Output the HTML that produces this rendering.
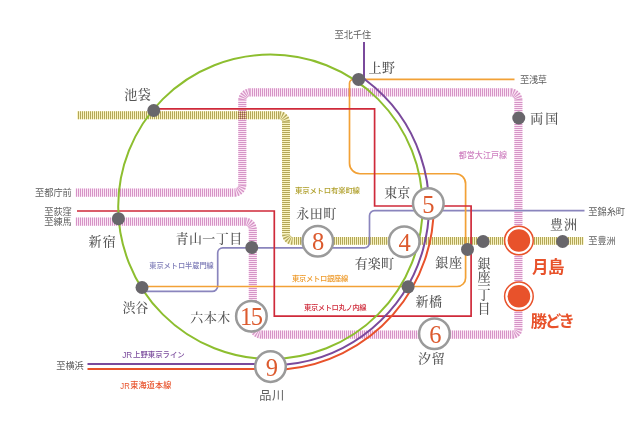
<!DOCTYPE html>
<html lang="ja"><head><meta charset="utf-8"><title>路線図</title>
<style>
html,body{margin:0;padding:0;background:#fff;}
body{width:640px;height:424px;overflow:hidden;}
svg{display:block;opacity:.999;will-change:transform;}
.m{font-family:"Liberation Serif","Noto Serif CJK JP","Noto Serif CJK SC",serif;font-size:13px;fill:#555;font-weight:500;}
.g{font-family:"Liberation Sans","Noto Sans CJK JP",sans-serif;font-size:9.2px;fill:#5e5e5e;font-weight:400;}
.s{font-family:"Liberation Sans","Noto Sans CJK JP",sans-serif;font-weight:500;}
.n{font-family:"Liberation Serif",serif;font-size:24.5px;fill:#dc5a2e;text-anchor:middle;}
.b{font-family:"Liberation Sans","Noto Sans CJK JP",sans-serif;font-weight:700;fill:#e8522b;}
</style></head><body>
<svg width="640" height="424" viewBox="0 0 640 424">
<rect width="640" height="424" fill="#fff"/>
<g fill="none" stroke-linecap="butt">
<path d="M75.5,192.6 L234.30,192.60 A8,8 0 0 0 242.30,184.60 L242.30,100.40 A8,8 0 0 1 250.30,92.40 L510.40,92.40 A8,8 0 0 1 518.40,100.40 L518.40,328.60 A6,6 0 0 1 512.40,334.60 L261.80,334.60 A9,9 0 0 1 252.80,325.60 L252.80,229.60 A8,8 0 0 0 244.80,221.60 L75.5,221.6" stroke="#fce7f5" stroke-width="8.1"/>
<path d="M75.50,192.6 H234.30" stroke="#d593c6" stroke-width="8.1" stroke-dasharray="1 1" stroke-dashoffset="1.50"/>
<path d="M242.3,100.40 V184.60" stroke="#d593c6" stroke-width="8.1" stroke-dasharray="1 1" stroke-dashoffset="0.40"/>
<path d="M250.30,92.4 H510.40" stroke="#d593c6" stroke-width="8.1" stroke-dasharray="1 1" stroke-dashoffset="0.30"/>
<path d="M518.4,100.40 V328.60" stroke="#d593c6" stroke-width="8.1" stroke-dasharray="1 1" stroke-dashoffset="0.40"/>
<path d="M261.80,334.6 H512.40" stroke="#d593c6" stroke-width="8.1" stroke-dasharray="1 1" stroke-dashoffset="1.80"/>
<path d="M252.8,229.60 V325.60" stroke="#d593c6" stroke-width="8.1" stroke-dasharray="1 1" stroke-dashoffset="1.60"/>
<path d="M75.50,221.6 H244.80" stroke="#d593c6" stroke-width="8.1" stroke-dasharray="1 1" stroke-dashoffset="1.50"/>
<path d="M234.30,192.60 A8,8 0 0 0 242.30,184.60" stroke="#d593c6" stroke-width="8.1" stroke-dasharray="1.047 1.047" stroke-dashoffset="-0.524"/>
<path d="M242.30,100.40 A8,8 0 0 1 250.30,92.40" stroke="#d593c6" stroke-width="8.1" stroke-dasharray="1.047 1.047" stroke-dashoffset="-0.524"/>
<path d="M510.40,92.40 A8,8 0 0 1 518.40,100.40" stroke="#d593c6" stroke-width="8.1" stroke-dasharray="1.047 1.047" stroke-dashoffset="-0.524"/>
<path d="M518.40,328.60 A6,6 0 0 1 512.40,334.60" stroke="#d593c6" stroke-width="8.1" stroke-dasharray="0.942 0.942" stroke-dashoffset="-0.471"/>
<path d="M261.80,334.60 A9,9 0 0 1 252.80,325.60" stroke="#d593c6" stroke-width="8.1" stroke-dasharray="1.010 1.010" stroke-dashoffset="-0.505"/>
<path d="M252.80,229.60 A8,8 0 0 0 244.80,221.60" stroke="#d593c6" stroke-width="8.1" stroke-dasharray="1.047 1.047" stroke-dashoffset="-0.524"/>
<g style="mix-blend-mode:multiply"><path d="M77,115.2 L279.00,115.20 A7,7 0 0 1 286.00,122.20 L286.00,233.90 A7,7 0 0 0 293.00,240.90 L583.75,240.9" stroke="#f9f4c2" stroke-width="7.9"/>
<path d="M77.00,115.2 H279.00" stroke="#b3a658" stroke-width="7.9" stroke-dasharray="1 1" stroke-dashoffset="1.00"/>
<path d="M286.0,122.20 V233.90" stroke="#b3a658" stroke-width="7.9" stroke-dasharray="1 1" stroke-dashoffset="0.20"/>
<path d="M293.00,240.9 H583.75" stroke="#b3a658" stroke-width="7.9" stroke-dasharray="1 1" stroke-dashoffset="1.00"/>
<path d="M279.00,115.20 A7,7 0 0 1 286.00,122.20" stroke="#b3a658" stroke-width="7.9" stroke-dasharray="1.100 1.100" stroke-dashoffset="-0.550"/>
<path d="M286.00,233.90 A7,7 0 0 0 293.00,240.90" stroke="#b3a658" stroke-width="7.9" stroke-dasharray="1.100 1.100" stroke-dashoffset="-0.550"/></g>
<path d="M142,291.4 L212.20,291.40 A5.5,5.5 0 0 0 217.70,285.90 L217.70,252.80 A5,5 0 0 1 222.70,247.80 L364.50,247.80 A5,5 0 0 0 369.50,242.80 L369.50,215.70 A5,5 0 0 1 374.50,210.70 L584.5,210.7" stroke="#8a85bd" stroke-width="1.7"/>
<path d="M142,286.5 L457.10,286.50 A8.5,8.5 0 0 0 465.60,278.00 L465.60,183.75 A10,10 0 0 0 455.60,173.75 L360.00,173.75 A10.5,10.5 0 0 1 349.50,163.25 L349.50,83.40 A4,4 0 0 1 353.50,79.40 L514.5,79.4" stroke="#f2a136" stroke-width="1.7"/>
<path d="M153.75,108.85 H374.6 V206 H471.1 V316.2 H274.3 V211 H77" stroke="#cf2a3a" stroke-width="1.7" stroke-linejoin="miter"/>
<circle cx="270.4" cy="206.75" r="152.2" stroke="#8dbe2f" stroke-width="2"/>
<path d="M364,42 V78.02 L365.59,80.02 A158.5,158.5 0 0 1 286,364.48 L270.6,364 H87.5" stroke="#7a4a9c" stroke-width="2" stroke-linejoin="round"/>
<path d="M433.60,201.05 A163.3,163.3 0 0 1 286,369.30 L270.6,369 H87.5" stroke="#e8522b" stroke-width="2" stroke-linejoin="round"/>
</g>
<g fill="#68666b">
<circle cx="153.75" cy="110.5" r="6.5"/>
<circle cx="358.6" cy="79.4" r="6.5"/>
<circle cx="518.75" cy="118" r="6.5"/>
<circle cx="118.4" cy="218.7" r="6.5"/>
<circle cx="251.75" cy="247.5" r="6.5"/>
<circle cx="142" cy="287.5" r="6.5"/>
<circle cx="408.1" cy="286.8" r="6.5"/>
<circle cx="467.5" cy="249.4" r="6.5"/>
<circle cx="483.1" cy="241.5" r="6.5"/>
<circle cx="562.6" cy="241.5" r="6.5"/>
</g>
<circle cx="518.9" cy="240.5" r="14.3" fill="#fff" stroke="#e8522b" stroke-width="1.5"/><circle cx="518.9" cy="240.5" r="11.3" fill="#e8522b"/>
<circle cx="518.9" cy="296.3" r="14.3" fill="#fff" stroke="#e8522b" stroke-width="1.5"/><circle cx="518.9" cy="296.3" r="11.3" fill="#e8522b"/>
<circle cx="317.8" cy="241.3" r="15.3" fill="#fff" stroke="#9a9a9a" stroke-width="2.5"/><text class="n" x="318.2" y="250.30">8</text>
<circle cx="404.2" cy="241.7" r="15.3" fill="#fff" stroke="#9a9a9a" stroke-width="2.5"/><text class="n" x="404.59999999999997" y="250.70">4</text>
<circle cx="428.3" cy="203.5" r="15.3" fill="#fff" stroke="#9a9a9a" stroke-width="2.5"/><text class="n" x="428.3" y="212.50">5</text>
<circle cx="251.4" cy="316.3" r="15.3" fill="#fff" stroke="#9a9a9a" stroke-width="2.5"/><text class="n" x="250.65" y="325.30" letter-spacing="-1.5">15</text>
<circle cx="434.4" cy="333.8" r="15.3" fill="#fff" stroke="#9a9a9a" stroke-width="2.5"/><text class="n" x="435.29999999999995" y="342.80">6</text>
<circle cx="270.5" cy="366.6" r="15.3" fill="#fff" stroke="#9a9a9a" stroke-width="2.5"/><text class="n" x="271.8" y="375.60">9</text>
<text class="m" x="124.20" y="98.90" textLength="26.50" lengthAdjust="spacing">池袋</text>
<text class="m" x="368.60" y="72.40" textLength="26.50" lengthAdjust="spacing">上野</text>
<text class="m" x="530.20" y="123.15" textLength="28.00" lengthAdjust="spacing">両国</text>
<text class="m" x="88.45" y="245.65" textLength="27.25" lengthAdjust="spacing">新宿</text>
<text class="m" x="175.50" y="243.15" textLength="66.70" lengthAdjust="spacing">青山一丁目</text>
<text class="m" x="296.20" y="217.65" textLength="40.00" lengthAdjust="spacing">永田町</text>
<text class="m" x="384.20" y="197.30" textLength="26.00" lengthAdjust="spacing">東京</text>
<text class="m" x="549.95" y="228.90" textLength="27.00" lengthAdjust="spacing">豊洲</text>
<text class="m" x="354.70" y="268.15" textLength="39.25" lengthAdjust="spacing">有楽町</text>
<text class="m" x="435.20" y="267.30" textLength="26.80" lengthAdjust="spacing">銀座</text>
<text class="m" x="415.45" y="305.65" textLength="26.50" lengthAdjust="spacing">新橋</text>
<text class="m" x="122.45" y="311.90" textLength="25.75" lengthAdjust="spacing">渋谷</text>
<text class="m" x="190.20" y="321.90" textLength="40.00" lengthAdjust="spacing">六本木</text>
<text class="m" x="417.90" y="362.70" textLength="26.80" lengthAdjust="spacing">汐留</text>
<text class="g" x="35" y="195.8" textLength="36.75" lengthAdjust="spacing">至都庁前</text>
<text class="g" x="44.25" y="214.55" textLength="27.5" lengthAdjust="spacing">至荻窪</text>
<text class="g" x="44.25" y="224.55" textLength="27.5" lengthAdjust="spacing">至練馬</text>
<text class="g" x="334.5" y="37.8" textLength="36.75" lengthAdjust="spacing">至北千住</text>
<text class="g" x="520" y="83.3" textLength="27" lengthAdjust="spacing">至浅草</text>
<text class="g" x="588.25" y="215.05" textLength="36.75" lengthAdjust="spacing">至錦糸町</text>
<text class="g" x="588.25" y="244.05" textLength="27.5" lengthAdjust="spacing">至豊洲</text>
<text class="g" x="56.25" y="369.05" textLength="27.5" lengthAdjust="spacing">至横浜</text>
<text class="s" x="295" y="192.60" fill="#b0a02c" font-size="7.4" textLength="65" lengthAdjust="spacing">東京メトロ有楽町線</text>
<text class="s" x="458.75" y="158.42" fill="#cf80c0" font-size="8" textLength="48.25" lengthAdjust="spacing">都営大江戸線</text>
<text class="s" x="149.25" y="267.63" fill="#7c7ab6" font-size="7.2" textLength="64.5" lengthAdjust="spacing">東京メトロ半蔵門線</text>
<text class="s" x="292" y="281.41" fill="#ee9a2a" font-size="7.3" textLength="56.3" lengthAdjust="spacing">東京メトロ銀座線</text>
<text class="s" x="304" y="309.66" fill="#cf2a3a" font-size="7.3" textLength="62.5" lengthAdjust="spacing">東京メトロ丸ノ内線</text>
<text class="s" x="122.2" y="357.54" fill="#7a4a9c" font-size="9" textLength="10" lengthAdjust="spacingAndGlyphs">JR</text>
<text class="s" x="133.1" y="356.95" fill="#7a4a9c" font-size="7.4" textLength="51.6" lengthAdjust="spacing">上野東京ライン</text>
<text class="s" x="120.3" y="388.93" fill="#e8522b" font-size="9.4" textLength="9.4" lengthAdjust="spacingAndGlyphs">JR</text>
<text class="s" x="130.3" y="388.46" fill="#e8522b" font-size="8.1" textLength="41" lengthAdjust="spacing">東海道本線</text>
<text class="g" style="font-size:12.2px" x="259.3" y="399.8" textLength="25" lengthAdjust="spacing">品川</text>
<text class="m" x="483.9" y="267.6" text-anchor="middle">銀</text>
<text class="m" x="483.9" y="281.1" text-anchor="middle">座</text>
<text class="m" x="483.9" y="290.20000000000005" text-anchor="middle">一</text>
<text class="m" x="483.9" y="298.6" text-anchor="middle">丁</text>
<text class="m" x="483.9" y="312.90000000000003" text-anchor="middle">目</text>
<text class="b" x="532" y="273.3" font-size="16.5" textLength="32.5" lengthAdjust="spacing">月島</text>
<text class="b" x="530.7" y="326.6" font-size="16.4" textLength="44.3" lengthAdjust="spacing">勝どき</text>
</svg></body></html>
